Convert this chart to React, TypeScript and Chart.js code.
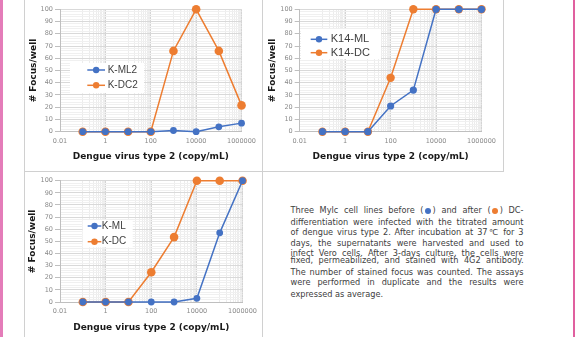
import React, { useEffect, useRef } from 'react';
import { Chart, registerables } from 'chart.js';

Chart.register(...registerables);

// ---- data ----
const doses = [0.1, 1, 10, 100, 1000, 10000, 100000, 1000000];

const kML2 = [0, 0, 0, 0, 1, 0, 4, 7];
const kDC2 = [0, 0, 0, 0, 66, 100, 66, 21.5];

const k14ML = [0, 0, 0, 21, 34, 100, 100, 100];
const k14DC = [0, 0, 0, 44, 100, 100, 100, 100];

const kML = [0, 0, 0, 0, 0, 3, 57, 100];
const kDC = [0, 0, 0, 24.5, 53.5, 100, 100, 100];

const xLabelValues = [0.01, 1, 100, 10000, 1000000];
const xLabelTexts = ['0.01', '1', '100', '10000', '1000000'];
const yLabelValues = [0, 10, 20, 30, 40, 50, 60, 70, 80, 90, 100];

const xTitle = 'Dengue virus type 2 (copy/mL)';
const yTitle = '# Focus/well';

const BLUE = '#4472C4';
const ORANGE = '#ED7D31';

const paragraphLines = [
  'differentiation were infected with the titrated amount',
  'of dengue virus type 2. After incubation at 37\u2103 for 3',
  'days, the supernatants were harvested and used to',
  'infect Vero cells. After 3-days culture, the cells were',
  'fixed, permeabilized, and stained with 4G2 antibody.',
  'The number of stained focus was counted. The assays',
  'were performed in duplicate and the results were',
];
const paragraphLast = 'expressed as average.';

// ---- helpers ----
const isMajorX = (v: number) => xLabelValues.some((m) => Math.abs(Math.log10(v) - Math.log10(m)) < 1e-6);
const isMajorY = (v: number) => yLabelValues.includes(v);

function buildXTicks() {
  const out: number[] = [];
  for (let i = 0; i < xLabelValues.length; i++) {
    const base = xLabelValues[i];
    out.push(base);
    if (i < xLabelValues.length - 1) {
      for (let j = 1; j <= 9; j++) out.push(Number((base * 10 * j).toPrecision(6)));
    }
  }
  return out;
}

const insideLegend = {
  id: 'insideLegend',
  beforeDatasetsDraw(chart: any, _args: any, opts: any) {
    const { ctx } = chart;
    ctx.save();
    ctx.fillStyle = '#ffffff';
    ctx.fillRect(opts.x, opts.y, opts.w, opts.h);
    chart.data.datasets.forEach((ds: any, i: number) => {
      const cy = opts.y + opts.firstRow + i * opts.rowGap;
      const lx = opts.x + opts.lineX;
      ctx.strokeStyle = ds.borderColor;
      ctx.lineWidth = 1.5;
      ctx.beginPath();
      ctx.moveTo(lx, cy);
      ctx.lineTo(lx + opts.lineLen, cy);
      ctx.stroke();
      ctx.fillStyle = ds.borderColor;
      ctx.beginPath();
      ctx.arc(lx + opts.lineLen / 2, cy, opts.dot, 0, Math.PI * 2);
      ctx.fill();
      ctx.fillStyle = '#404040';
      ctx.font = `${opts.fontSize}px "Liberation Sans", Arial, sans-serif`;
      ctx.textBaseline = 'middle';
      ctx.textAlign = 'left';
      ctx.fillText(ds.label, lx + opts.lineLen + opts.textGap, cy);
    });
    ctx.restore();
  },
};

type Cfg = {
  left: number;
  top: number;
  w: number;
  h: number;
  padTop: number;
  padRight: number;
  yWidth: number;
  xHeight: number;
  yTitlePad: number;
  xTitlePad: number;
  xTickPad: number;
  series: { label: string; values: number[]; color: string; radius: number }[];
  legend: any;
};

function LogChart({ cfg }: { cfg: Cfg }) {
  const ref = useRef<HTMLCanvasElement>(null);
  useEffect(() => {
    const xTicks = buildXTicks();
    const chart = new Chart(ref.current!, {
      type: 'line',
      data: {
        datasets: cfg.series.map((s) => ({
          label: s.label,
          data: doses.map((d, i) => ({ x: d, y: s.values[i] })),
          borderColor: s.color,
          backgroundColor: s.color,
          pointBackgroundColor: s.color,
          pointBorderColor: s.color,
          pointBorderWidth: 0,
          pointRadius: s.radius,
          pointHoverRadius: s.radius,
          borderWidth: 1.5,
          tension: 0,
          clip: false as any,
        })),
      },
      options: {
        animation: false,
        responsive: false,
        maintainAspectRatio: false,
        events: [],
        layout: { padding: { top: cfg.padTop, right: cfg.padRight, left: 0, bottom: 0 } },
        scales: {
          x: {
            type: 'logarithmic',
            min: 0.01,
            max: 1000000,
            afterBuildTicks: (scale: any) => {
              scale.ticks = xTicks.map((v) => ({ value: v }));
            },
            afterFit: (scale: any) => {
              scale.height = cfg.xHeight;
            },
            border: { color: '#bfbfbf', width: 1 },
            grid: {
              drawTicks: false,
              color: (c: any) => (c.tick && isMajorX(c.tick.value) ? '#d4d4d4' : '#ececec'),
            },
            ticks: {
              autoSkip: false,
              maxRotation: 0,
              minRotation: 0,
              padding: cfg.xTickPad,
              color: '#8a8a8a',
              font: { family: '"DejaVu Sans", Verdana, sans-serif', size: 6.5 },
              callback: (v: any) => {
                const idx = xLabelValues.findIndex((m) => Math.abs(Math.log10(Number(v)) - Math.log10(m)) < 1e-6);
                return idx >= 0 ? xLabelTexts[idx] : '';
              },
            },
            title: {
              display: true,
              text: xTitle,
              color: '#1a1a1a',
              font: { family: '"DejaVu Sans", Verdana, sans-serif', size: 9, weight: 'bold' },
              padding: { top: 0, bottom: cfg.xTitlePad },
            },
          },
          y: {
            type: 'linear',
            min: 0,
            max: 100,
            afterFit: (scale: any) => {
              scale.width = cfg.yWidth;
            },
            border: { color: '#bfbfbf', width: 1 },
            grid: {
              drawTicks: true,
              tickLength: 5,
              color: (c: any) => (c.tick && isMajorY(c.tick.value) ? '#d9d9d9' : '#f0f0f0'),
              tickColor: (c: any) => (c.tick && isMajorY(c.tick.value) ? '#bfbfbf' : 'rgba(0,0,0,0)'),
            },
            ticks: {
              stepSize: 2,
              autoSkip: false,
              padding: 2,
              color: '#8a8a8a',
              font: { family: '"DejaVu Sans", Verdana, sans-serif', size: 6.5 },
              callback: (v: any) => (isMajorY(Number(v)) ? String(v) : ''),
            },
            title: {
              display: true,
              text: yTitle,
              color: '#1a1a1a',
              font: { family: '"DejaVu Sans", Verdana, sans-serif', size: 9, weight: 'bold' },
              padding: { top: cfg.yTitlePad, bottom: 0 },
            },
          },
        },
        plugins: {
          legend: { display: false },
          tooltip: { enabled: false },
          insideLegend: cfg.legend,
        } as any,
      } as any,
      plugins: [insideLegend],
    });
    return () => chart.destroy();
  }, []);
  return (
    <canvas
      ref={ref}
      width={cfg.w}
      height={cfg.h}
      style={{ position: 'absolute', left: cfg.left, top: cfg.top, width: cfg.w, height: cfg.h }}
    />
  );
}

const chart1: Cfg = {
  left: 25, top: 0, w: 237, h: 171,
  padTop: 9.3, padRight: 18, yWidth: 35, xHeight: 39.3,
  yTitlePad: 3, xTitlePad: 9, xTickPad: 6,
  series: [
    { label: 'K-ML2', values: kML2, color: BLUE, radius: 3.4 },
    { label: 'K-DC2', values: kDC2, color: ORANGE, radius: 4.3 },
  ],
  legend: { x: 45, y: 63, w: 74, h: 30, firstRow: 7, rowGap: 15.3, lineX: 17.3, lineLen: 17.7, dot: 3.2, textGap: 2.7, fontSize: 10 },
};

const chart2: Cfg = {
  left: 264, top: 0, w: 238, h: 171,
  padTop: 9.3, padRight: 18.7, yWidth: 35.7, xHeight: 39.3,
  yTitlePad: 3, xTitlePad: 9, xTickPad: 6,
  series: [
    { label: 'K14-ML', values: k14ML, color: BLUE, radius: 3.6 },
    { label: 'K14-DC', values: k14DC, color: ORANGE, radius: 4.2 },
  ],
  legend: { x: 37, y: 29, w: 80, h: 30, firstRow: 10.3, rowGap: 13.4, lineX: 9.7, lineLen: 16.6, dot: 3.2, textGap: 3.4, fontSize: 11 },
};

const chart3: Cfg = {
  left: 25, top: 173, w: 237, h: 164,
  padTop: 7.7, padRight: 18, yWidth: 35, xHeight: 35,
  yTitlePad: 2.5, xTitlePad: 4, xTickPad: 5,
  series: [
    { label: 'K-ML', values: kML, color: BLUE, radius: 3.4 },
    { label: 'K-DC', values: kDC, color: ORANGE, radius: 4.3 },
  ],
  legend: { x: 57.7, y: 47, w: 50, h: 27.3, firstRow: 6, rowGap: 15.7, lineX: 5, lineLen: 13.6, dot: 3.2, textGap: 0.5, fontSize: 10 },
};

const lineCenters = [210, 222, 232.3, 242.7, 252.6, 260.3, 271.7, 282.3, 294.3];

function Dot({ color }: { color: string }) {
  return (
    <span
      style={{
        display: 'inline-block',
        width: 6,
        height: 6,
        borderRadius: 3,
        background: color,
        margin: '0 1.5px',
        verticalAlign: '-0.5px',
      }}
    />
  );
}

export default function App() {
  const textStyle: React.CSSProperties = {
    position: 'absolute',
    left: 290.5,
    width: 233,
    height: 10,
    lineHeight: '10px',
    fontSize: 8.2,
    fontFamily: '"DejaVu Sans", Verdana, sans-serif',
    color: '#404040',
    textAlign: 'justify',
    textAlignLast: 'justify' as any,
    whiteSpace: 'nowrap',
  };
  return (
    <div style={{ position: 'absolute', left: 0, top: 0, width: 582, height: 337, background: '#ffffff', overflow: 'hidden' }}>
      <div style={{ position: 'absolute', left: 0, top: 0, width: 3, height: 337, background: '#e47cb9' }} />
      <div style={{ position: 'absolute', left: 573, top: 0, width: 2, height: 337, background: '#e0609f' }} />
      {/* panel borders */}
      <div style={{ position: 'absolute', left: 24, top: -1, width: 239, height: 173, border: '1px solid #d0d0d0', boxSizing: 'border-box' }} />
      <div style={{ position: 'absolute', left: 262, top: -1, width: 242, height: 173, border: '1px solid #d0d0d0', boxSizing: 'border-box' }} />
      <div style={{ position: 'absolute', left: 24, top: 171, width: 239, height: 180, border: '1px solid #d0d0d0', boxSizing: 'border-box' }} />
      <LogChart cfg={chart1} />
      <LogChart cfg={chart2} />
      <LogChart cfg={chart3} />
      <div style={{ ...textStyle, top: lineCenters[0] - 5 }}>
        Three Mylc cell lines before (<Dot color={BLUE} />) and after (<Dot color={ORANGE} />) DC-
      </div>
      {paragraphLines.map((t, i) => (
        <div key={i} style={{ ...textStyle, top: lineCenters[i + 1] - 5 }}>
          {t}
        </div>
      ))}
      <div style={{ ...textStyle, top: lineCenters[8] - 5, textAlign: 'left', textAlignLast: 'left' as any }}>{paragraphLast}</div>
    </div>
  );
}
